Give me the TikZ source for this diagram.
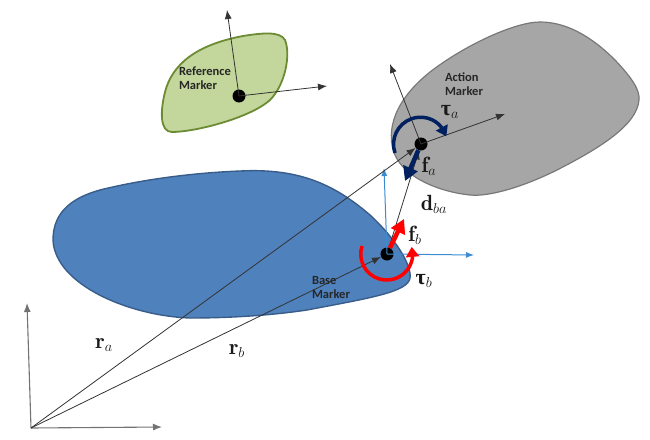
\documentclass[tikz,border=0pt]{standalone}
\usepackage{fontspec}
\setsansfont{Carlito}
\newfontfamily\grkfont{Liberation Serif}
\usepackage{tikz}
\usetikzlibrary{arrows.meta, positioning, bending}
\definecolor{bodyblue}{RGB}{79,129,189}
\definecolor{edgeblue}{RGB}{56,93,138}
\definecolor{bodygreen}{RGB}{195,214,155}
\definecolor{edgegreen}{RGB}{108,140,52}
\definecolor{bodygray}{RGB}{166,166,166}
\definecolor{edgegray}{RGB}{120,120,120}
\definecolor{axisblue}{RGB}{60,140,210}
\definecolor{navyblue}{RGB}{0,32,96}
\definecolor{symcol}{RGB}{25,25,25}
\begin{document}
\begin{tikzpicture}[x=1pt, y=-1pt,
    axisline/.style={-{Latex[length=9pt,width=7pt]}, draw=black!80, line width=0.8pt},
    frameline/.style={-{Latex[length=9pt,width=7pt]}, draw=black!55, line width=1.1pt},
    baseline/.style={-{Latex[length=8pt,width=6pt]}, draw=axisblue, line width=1pt},
    markerdot/.style={circle, fill=black, inner sep=0pt, minimum size=13pt},
    markerlabel/.style={font=\sffamily\bfseries\fontsize{12.5}{14}\selectfont, align=left, text=black!85, inner sep=0pt},
    sym/.style={font=\fontsize{22}{22}\selectfont, text=symcol, inner sep=0pt}]

    % Bounding box
    \useasboundingbox (0,0) rectangle (650,439);

    % Bodies
    \draw[fill=bodygreen, draw=edgegreen, line width=1.8pt] (243,36)
        .. controls (262,33) and (280,31) .. (285,40)
        .. controls (291,55) and (285,85) .. (270,100)
        .. controls (250,118) and (195,132) .. (172,132)
        .. controls (160,132) and (160,112) .. (165,92)
        .. controls (172,65) and (195,45) .. (243,36) -- cycle;
    \draw[fill=bodygray, draw=edgegray, line width=1.2pt] (540,22)
        .. controls (565,22) and (590,35) .. (615,60)
        .. controls (632,78) and (640,90) .. (639,100)
        .. controls (637,125) and (600,148) .. (557,170)
        .. controls (525,186) and (490,197) .. (470,195)
        .. controls (440,192) and (405,178) .. (395,155)
        .. controls (385,130) and (395,100) .. (430,72)
        .. controls (465,45) and (515,22) .. (540,22) -- cycle;
    \draw[fill=bodyblue, draw=edgeblue, line width=1.4pt] (240,171)
        .. controls (300,168) and (335,185) .. (370,215)
        .. controls (395,238) and (412,265) .. (410,278)
        .. controls (408,292) and (370,298) .. (307,310)
        .. controls (260,317) and (215,318) .. (190,318)
        .. controls (130,316) and (55,285) .. (53,240)
        .. controls (53,210) and (75,197) .. (100,190)
        .. controls (140,180) and (190,173) .. (240,171) -- cycle;

    % Markers
    \node[markerdot] (mref) at (239,96) {};
    \node[markerdot] (maction) at (421,144) {};
    \node[markerdot] (mbase) at (387,254) {};
    \coordinate (origin) at (31,428);
    \coordinate (ox) at (162,427);
    \coordinate (oy) at (27,303);
    \coordinate (refx) at (327,86);
    \coordinate (refy) at (227,10);
    \coordinate (actx) at (505,114);
    \coordinate (acty) at (390,64);
    \coordinate (basex) at (474,255);
    \coordinate (basey) at (384,168);

    % Axes
    \draw[frameline] (origin) -- (ox);
    \draw[frameline] (origin) -- (oy);
    \draw[axisline] (mref.center) -- (refx);
    \draw[axisline] (mref.center) -- (refy);
    \draw[axisline] (maction.center) -- (actx);
    \draw[axisline] (maction.center) -- (acty);
    \draw[baseline] (mbase.center) -- (basex);
    \draw[baseline] (mbase.center) -- (basey);

    % Position vectors
    \draw[axisline] (origin) -- (maction);
    \draw[axisline] (origin) -- (mbase);
    \draw[axisline] (mbase) -- (maction);

    % Forces and torques
    \coordinate (fbtip) at (404,219);
    \coordinate (fatip) at (405,181);
    \draw[-{Triangle[length=14pt,width=15pt]}, draw=red, line width=4.5pt] (mbase) -- (fbtip);
    \draw[-{Triangle[length=14pt,width=15pt]}, draw=navyblue, line width=4.5pt] (maction) -- (fatip);
    \draw[-{Triangle[length=10pt,width=13pt,flex=1]}, draw=red, line width=3.5pt] (362,246) arc[start angle=-162, end angle=-376, radius=26];
    \draw[-{Triangle[length=10pt,width=13pt,flex=1]}, draw=navyblue, line width=3.5pt] (395,153) arc[start angle=-199, end angle=-17, radius=27];

    % Labels
    \node[markerlabel] (lref) at (205,78) {Reference\\Marker};
    \node[markerlabel] (lact) at (464,84) {Action\\Marker};
    \node[markerlabel] (lbase) at (331,287) {Base\\Marker};
    \node[sym] (ltaua) at (450,112) {{\grkfont\bfseries τ}$_{a}$};
    \node[sym] (lfa) at (429,166) {$\mathbf{f}_{a}$};
    \node[sym] (ldba) at (434,204) {$\mathbf{d}_{ba}$};
    \node[sym] (lfb) at (415,235) {$\mathbf{f}_{b}$};
    \node[sym] (ltaub) at (424,281) {{\grkfont\bfseries τ}$_{b}$};
    \node[sym] (lra) at (104,345) {$\mathbf{r}_{a}$};
    \node[sym] (lrb) at (237,351) {$\mathbf{r}_{b}$};
\end{tikzpicture}
\end{document}
